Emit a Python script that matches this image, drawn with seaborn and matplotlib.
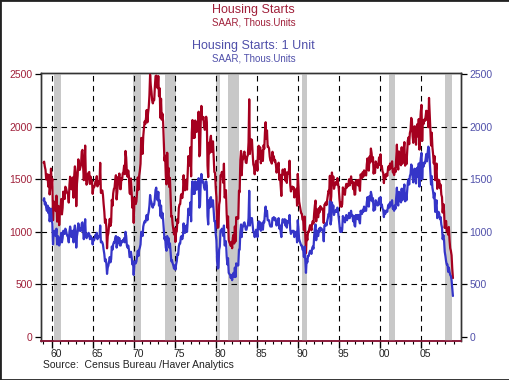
import numpy as np
import pandas as pd
import matplotlib
matplotlib.use("Agg")
import matplotlib.pyplot as plt
from matplotlib.patches import Rectangle
from matplotlib.transforms import ScaledTranslation
import seaborn as sns

# ---------------- data (monthly, SAAR, thousands of units) ----------------
years = list(range(1959, 2009))

total_starts = [
    1657, 1667, 1620, 1590, 1498, 1503, 1547, 1430, 1540, 1355, 1416, 1601,  # 1959
    1460, 1503, 1109, 1289, 1271, 1247, 1197, 1344, 1097, 1246, 1246, 1063,  # 1960
    1183, 1226, 1312, 1166, 1228, 1382, 1335, 1312, 1429, 1415, 1385, 1365,  # 1961
    1361, 1278, 1443, 1524, 1483, 1404, 1450, 1517, 1324, 1533, 1622, 1564,  # 1962
    1244, 1456, 1534, 1689, 1641, 1588, 1614, 1639, 1763, 1779, 1622, 1491,  # 1963
    1603, 1820, 1517, 1448, 1467, 1550, 1562, 1569, 1455, 1524, 1486, 1484,  # 1964
    1361, 1433, 1423, 1438, 1478, 1488, 1529, 1432, 1482, 1452, 1460, 1656,  # 1965
    1370, 1378, 1394, 1352, 1265, 1194, 1086, 1119, 1046, 843, 961, 990,     # 1966
    1067, 1123, 1056, 1091, 1304, 1248, 1364, 1407, 1421, 1491, 1538, 1308,  # 1967
    1380, 1520, 1466, 1554, 1408, 1405, 1512, 1495, 1556, 1569, 1630, 1548,  # 1968
    1769, 1705, 1561, 1524, 1583, 1528, 1368, 1358, 1507, 1381, 1229, 1327,  # 1969
    1085, 1305, 1319, 1264, 1290, 1385, 1517, 1399, 1534, 1580, 1647, 1893,  # 1970
    1828, 1741, 1910, 1986, 2049, 2026, 2083, 2158, 2041, 2128, 2182, 2295,  # 1971
    2494, 2390, 2334, 2249, 2221, 2254, 2252, 2382, 2481, 2485, 2421, 2366,  # 1972
    2481, 2289, 2365, 2084, 2266, 2067, 2123, 2051, 1874, 1677, 1724, 1526,  # 1973
    1451, 1752, 1555, 1607, 1426, 1513, 1316, 1142, 1150, 1070, 1026, 975,   # 1974
    1032, 904, 993, 1005, 1121, 1087, 1226, 1260, 1264, 1344, 1360, 1321,    # 1975
    1367, 1538, 1421, 1395, 1459, 1495, 1401, 1550, 1720, 1629, 1641, 1804,  # 1976
    1527, 1943, 2063, 1892, 1971, 1893, 2058, 2020, 1949, 2042, 2042, 2142,  # 1977
    1718, 1738, 2032, 2197, 2075, 2070, 2092, 1996, 1970, 1981, 2094, 2044,  # 1978
    1630, 1520, 1847, 1748, 1876, 1913, 1760, 1779, 1860, 1724, 1568, 1562,  # 1979
    1419, 1330, 1041, 1038, 1045, 1259, 1295, 1537, 1541, 1570, 1537, 1466,  # 1980
    1648, 1326, 1343, 1396, 1174, 1039, 1147, 920, 900, 886, 866, 905,       # 1981
    844, 943, 972, 889, 1051, 909, 1140, 1125, 1136, 1125, 1391, 1376,       # 1982
    1683, 1769, 1538, 1677, 1690, 1746, 1763, 1713, 1658, 1654, 1714, 1728,  # 1983
    1850, 2260, 1740, 1842, 1880, 1871, 1744, 1641, 1620, 1547, 1626, 1674,  # 1984
    1674, 1582, 1794, 1818, 1695, 1804, 1652, 1734, 1772, 1674, 1823, 1790,  # 1985
    1944, 2042, 1884, 1964, 1807, 1809, 1792, 1716, 1676, 1675, 1649, 1761,  # 1986
    1712, 1718, 1668, 1681, 1641, 1563, 1600, 1620, 1657, 1494, 1542, 1442,  # 1987
    1341, 1537, 1592, 1548, 1542, 1597, 1486, 1564, 1465, 1564, 1552, 1574,  # 1988
    1676, 1447, 1384, 1419, 1430, 1412, 1424, 1327, 1397, 1376, 1409, 1249,  # 1989
    1551, 1437, 1289, 1248, 1212, 1177, 1171, 1115, 1110, 1014, 1145, 969,   # 1990
    798, 965, 921, 1001, 996, 1036, 1063, 1049, 1015, 1079, 1103, 1079,      # 1991
    1176, 1250, 1297, 1099, 1214, 1145, 1139, 1226, 1186, 1244, 1214, 1227,  # 1992
    1210, 1210, 1083, 1258, 1260, 1280, 1254, 1300, 1343, 1392, 1376, 1533,  # 1993
    1272, 1337, 1564, 1465, 1526, 1409, 1439, 1450, 1474, 1450, 1511, 1455,  # 1994
    1407, 1316, 1243, 1283, 1238, 1262, 1422, 1385, 1402, 1352, 1422, 1456,  # 1995
    1421, 1447, 1438, 1499, 1442, 1475, 1527, 1464, 1479, 1406, 1467, 1353,  # 1996
    1355, 1486, 1457, 1492, 1442, 1494, 1437, 1390, 1546, 1520, 1510, 1566,  # 1997
    1525, 1584, 1567, 1540, 1536, 1641, 1698, 1614, 1582, 1715, 1660, 1792,  # 1998
    1748, 1670, 1710, 1553, 1611, 1559, 1669, 1648, 1635, 1608, 1648, 1708,  # 1999
    1636, 1737, 1604, 1626, 1575, 1559, 1463, 1541, 1507, 1549, 1551, 1532,  # 2000
    1600, 1625, 1590, 1649, 1605, 1636, 1670, 1567, 1562, 1540, 1602, 1568,  # 2001
    1698, 1829, 1642, 1592, 1764, 1717, 1655, 1633, 1804, 1648, 1753, 1788,  # 2002
    1853, 1629, 1726, 1643, 1751, 1867, 1897, 1833, 1939, 1967, 2083, 2057,  # 2003
    1911, 1846, 1998, 2003, 1981, 1828, 2002, 2024, 1905, 2072, 1782, 2042,  # 2004
    2144, 2207, 1864, 2061, 2025, 2068, 2054, 2095, 2151, 2065, 2147, 1994,  # 2005
    2273, 2119, 1969, 1821, 1942, 1802, 1737, 1650, 1720, 1491, 1570, 1649,  # 2006
    1409, 1480, 1495, 1490, 1415, 1448, 1354, 1330, 1183, 1264, 1197, 1037,  # 2007
    1084, 1103, 1005, 1013, 973, 1046, 923, 844, 820, 777, 652, 560,         # 2008
]

single_family = [
    1300, 1320, 1260, 1280, 1230, 1200, 1250, 1180, 1230, 1100, 1150, 1220,  # 1959
    1110, 1080, 880, 1000, 1010, 970, 960, 1030, 880, 960, 950, 870,         # 1960
    900, 930, 990, 900, 940, 1010, 990, 980, 1030, 1010, 980, 960,           # 1961
    950, 900, 1000, 1050, 1010, 950, 990, 1010, 900, 1020, 1060, 1000,       # 1962
    850, 960, 1000, 1080, 1040, 1010, 1030, 1010, 1080, 1090, 1010, 930,     # 1963
    1000, 1120, 960, 940, 950, 980, 990, 980, 930, 960, 940, 940,            # 1964
    880, 930, 920, 940, 970, 960, 990, 930, 960, 950, 950, 1060,             # 1965
    900, 910, 900, 880, 830, 790, 720, 740, 700, 600, 660, 680,              # 1966
    720, 760, 710, 740, 860, 830, 880, 900, 900, 940, 960, 850,              # 1967
    880, 950, 900, 940, 870, 870, 910, 900, 920, 910, 940, 900,              # 1968
    1000, 960, 870, 850, 870, 830, 760, 760, 810, 760, 690, 720,             # 1969
    590, 700, 720, 700, 720, 770, 820, 770, 830, 850, 880, 1000,             # 1970
    990, 960, 1050, 1080, 1100, 1090, 1120, 1160, 1110, 1160, 1190, 1250,    # 1971
    1350, 1300, 1280, 1240, 1230, 1260, 1260, 1320, 1400, 1420, 1330, 1300,  # 1972
    1380, 1250, 1300, 1150, 1250, 1130, 1180, 1120, 1030, 930, 950, 850,     # 1973
    820, 960, 900, 940, 850, 890, 800, 720, 730, 700, 680, 650,              # 1974
    680, 640, 690, 720, 790, 780, 860, 890, 890, 950, 960, 930,              # 1975
    960, 1080, 1000, 990, 1040, 1060, 1000, 1100, 1220, 1160, 1170, 1280,    # 1976
    1100, 1390, 1480, 1360, 1420, 1360, 1480, 1450, 1400, 1470, 1470, 1510,  # 1977
    1230, 1250, 1450, 1550, 1480, 1470, 1480, 1420, 1400, 1410, 1480, 1440,  # 1978
    1150, 1070, 1300, 1230, 1320, 1330, 1240, 1250, 1300, 1200, 1100, 1100,  # 1979
    980, 920, 720, 650, 660, 830, 860, 1010, 1010, 1030, 1010, 960,          # 1980
    1060, 870, 880, 910, 770, 690, 750, 610, 600, 590, 560, 590,             # 1981
    540, 590, 610, 570, 660, 570, 700, 680, 690, 680, 830, 830,              # 1982
    1000, 1070, 950, 1040, 1050, 1080, 1090, 1060, 1020, 1020, 1050, 1060,   # 1983
    1130, 1390, 1060, 1120, 1130, 1130, 1060, 1000, 990, 950, 990, 1020,     # 1984
    1010, 950, 1080, 1100, 1030, 1090, 1010, 1050, 1080, 1020, 1100, 1090,   # 1985
    1180, 1240, 1150, 1200, 1110, 1110, 1110, 1070, 1050, 1060, 1050, 1130,  # 1986
    1130, 1140, 1110, 1130, 1110, 1060, 1090, 1100, 1130, 1030, 1060, 1000,  # 1987
    950, 1080, 1120, 1090, 1090, 1120, 1060, 1110, 1040, 1100, 1090, 1100,   # 1988
    1160, 1020, 980, 1000, 1010, 1000, 1010, 950, 1000, 990, 1000, 900,      # 1989
    1110, 1030, 930, 910, 890, 870, 870, 830, 830, 760, 860, 740,            # 1990
    610, 740, 710, 770, 770, 800, 820, 810, 790, 840, 860, 840,              # 1991
    960, 1030, 1070, 920, 1010, 960, 960, 1030, 1000, 1040, 1020, 1030,      # 1992
    1010, 1010, 910, 1060, 1060, 1080, 1060, 1100, 1130, 1170, 1160, 1290,   # 1993
    1070, 1110, 1280, 1210, 1250, 1160, 1190, 1190, 1210, 1190, 1230, 1190,  # 1994
    1130, 1060, 1000, 1030, 1000, 1020, 1150, 1120, 1130, 1090, 1140, 1160,  # 1995
    1110, 1140, 1130, 1180, 1130, 1160, 1200, 1150, 1160, 1100, 1150, 1060,  # 1996
    1050, 1160, 1130, 1160, 1120, 1160, 1110, 1080, 1200, 1180, 1170, 1210,  # 1997
    1190, 1240, 1220, 1200, 1200, 1280, 1330, 1270, 1240, 1340, 1300, 1380,  # 1998
    1350, 1290, 1320, 1200, 1250, 1210, 1300, 1280, 1270, 1250, 1280, 1320,  # 1999
    1260, 1330, 1240, 1260, 1220, 1210, 1140, 1200, 1170, 1200, 1200, 1190,  # 2000
    1240, 1260, 1230, 1280, 1250, 1270, 1300, 1220, 1220, 1200, 1250, 1220,  # 2001
    1330, 1420, 1280, 1250, 1380, 1350, 1300, 1280, 1410, 1300, 1380, 1400,  # 2002
    1450, 1290, 1360, 1300, 1380, 1470, 1500, 1450, 1530, 1550, 1640, 1620,  # 2003
    1520, 1470, 1590, 1600, 1580, 1460, 1600, 1610, 1520, 1650, 1430, 1630,  # 2004
    1700, 1750, 1500, 1650, 1620, 1660, 1650, 1690, 1740, 1670, 1750, 1810,  # 2005
    1790, 1680, 1560, 1450, 1530, 1420, 1380, 1320, 1370, 1190, 1250, 1300,  # 2006
    1130, 1180, 1190, 1170, 1120, 1140, 1070, 1040, 930, 970, 920, 810,      # 2007
    770, 720, 690, 690, 620, 660, 620, 590, 580, 540, 460, 390,              # 2008
]

recession_start = [1960.25, 1969.92, 1973.83, 1980.0, 1981.5, 1990.5, 2001.17, 2007.92]
recession_end = [1961.08, 1970.83, 1975.17, 1980.5, 1982.83, 1991.17, 2001.83, 2008.83]

x_tick_years = [1960, 1965, 1970, 1975, 1980, 1985, 1990, 1995, 2000, 2005]
x_tick_labels = ["60", "65", "70", "75", "80", "85", "90", "95", "00", "05"]
y_ticks = [0, 500, 1000, 1500, 2000, 2500]

# ---------------- build frame ----------------
t = [y + m / 12.0 for y in years for m in range(12)]
df = pd.DataFrame({"t": t, "total": total_starts, "single": single_family})

RED = "#A5001F"
BLUE = "#3535C8"
RED_TXT = "#A0203A"
BLUE_TXT = "#5050AA"

sns.set_theme(style="white")
plt.rcParams["font.family"] = ["Liberation Sans", "DejaVu Sans"]

fig = plt.figure(figsize=(5.10, 3.80), dpi=100)
ax = fig.add_axes([41 / 510, 1 - 341 / 380, (461 - 41) / 510, (341 - 73) / 380])
ax2 = ax.twinx()
ax2.set_zorder(ax.get_zorder() - 1)
ax.patch.set_visible(False)

xlim = (1958.7, 2009.9)
ylim = (-38, 2510)

for s, e in zip(recession_start, recession_end):
    ax.axvspan(s, e, color="#C8C8C8", lw=0, zorder=0)

for v in [500, 1000, 1500, 2000]:
    ax.axhline(v, color="black", lw=0.8, ls=(0, (5, 4)), zorder=1)
for v in x_tick_years:
    ax.axvline(v, color="black", lw=0.8, ls=(0, (5, 4)), zorder=1)

sns.lineplot(data=df, x="t", y="total", ax=ax, color=RED, lw=1.6, zorder=3)
sns.lineplot(data=df, x="t", y="single", ax=ax, color=BLUE, lw=1.6, zorder=4)

for a in (ax, ax2):
    a.set_xlim(*xlim)
    a.set_ylim(*ylim)
    a.set_xlabel("")
    a.set_ylabel("")
    a.set_yticks(y_ticks)

ax.set_yticklabels([str(v) for v in y_ticks], color=RED_TXT, fontsize=7.5)
ax2.set_yticklabels([str(v) for v in y_ticks], color=BLUE_TXT, fontsize=7.5)
ax.tick_params(axis="y", which="major", direction="out", length=4, width=0.9,
               color="black", pad=2, left=True)
ax2.tick_params(axis="y", which="major", direction="out", length=4, width=0.9,
                color="black", pad=2, right=True)

ax.set_xticks(x_tick_years)
ax.set_xticklabels(x_tick_labels, fontsize=7.5, color="#222222")
ax.set_xticks(list(range(1959, 2010)), minor=True)
ax.tick_params(axis="x", which="major", direction="out", length=5, width=1.0,
               color="black", pad=0.5, bottom=True)
ax.tick_params(axis="x", which="minor", direction="out", length=2.5, width=0.8,
               color="black", bottom=True)
ax2.tick_params(axis="x", which="both", bottom=False, labelbottom=False)
offset = ScaledTranslation(4.1 / 100, 0, fig.dpi_scale_trans)
for lab in ax.get_xticklabels():
    lab.set_transform(lab.get_transform() + offset)

for a in (ax, ax2):
    for side in ["left", "right", "top"]:
        a.spines[side].set_color("#333333")
        a.spines[side].set_linewidth(1.0)
    a.spines["bottom"].set_color("#8B1A3A")
    a.spines["bottom"].set_linewidth(1.2)

# titles
fig.text(0.497, 1 - 10 / 380, "Housing Starts", ha="center", va="center",
         color=RED_TXT, fontsize=9)
fig.text(0.497, 1 - 22.5 / 380, "SAAR, Thous.Units", ha="center", va="center",
         color=RED_TXT, fontsize=7)
fig.text(0.497, 1 - 46 / 380, "Housing Starts: 1 Unit", ha="center", va="center",
         color=BLUE_TXT, fontsize=9)
fig.text(0.497, 1 - 58.5 / 380, "SAAR, Thous.Units", ha="center", va="center",
         color=BLUE_TXT, fontsize=7)
fig.text(43 / 510, 1 - 365.5 / 380, "Source:  Census Bureau /Haver Analytics",
         ha="left", va="center", color="#222222", fontsize=7.5)

fig.add_artist(Rectangle((0, 0), 1, 1, transform=fig.transFigure, fill=False,
                         lw=2.0, ec="#222222"))

fig.savefig("out.png", dpi=100)
